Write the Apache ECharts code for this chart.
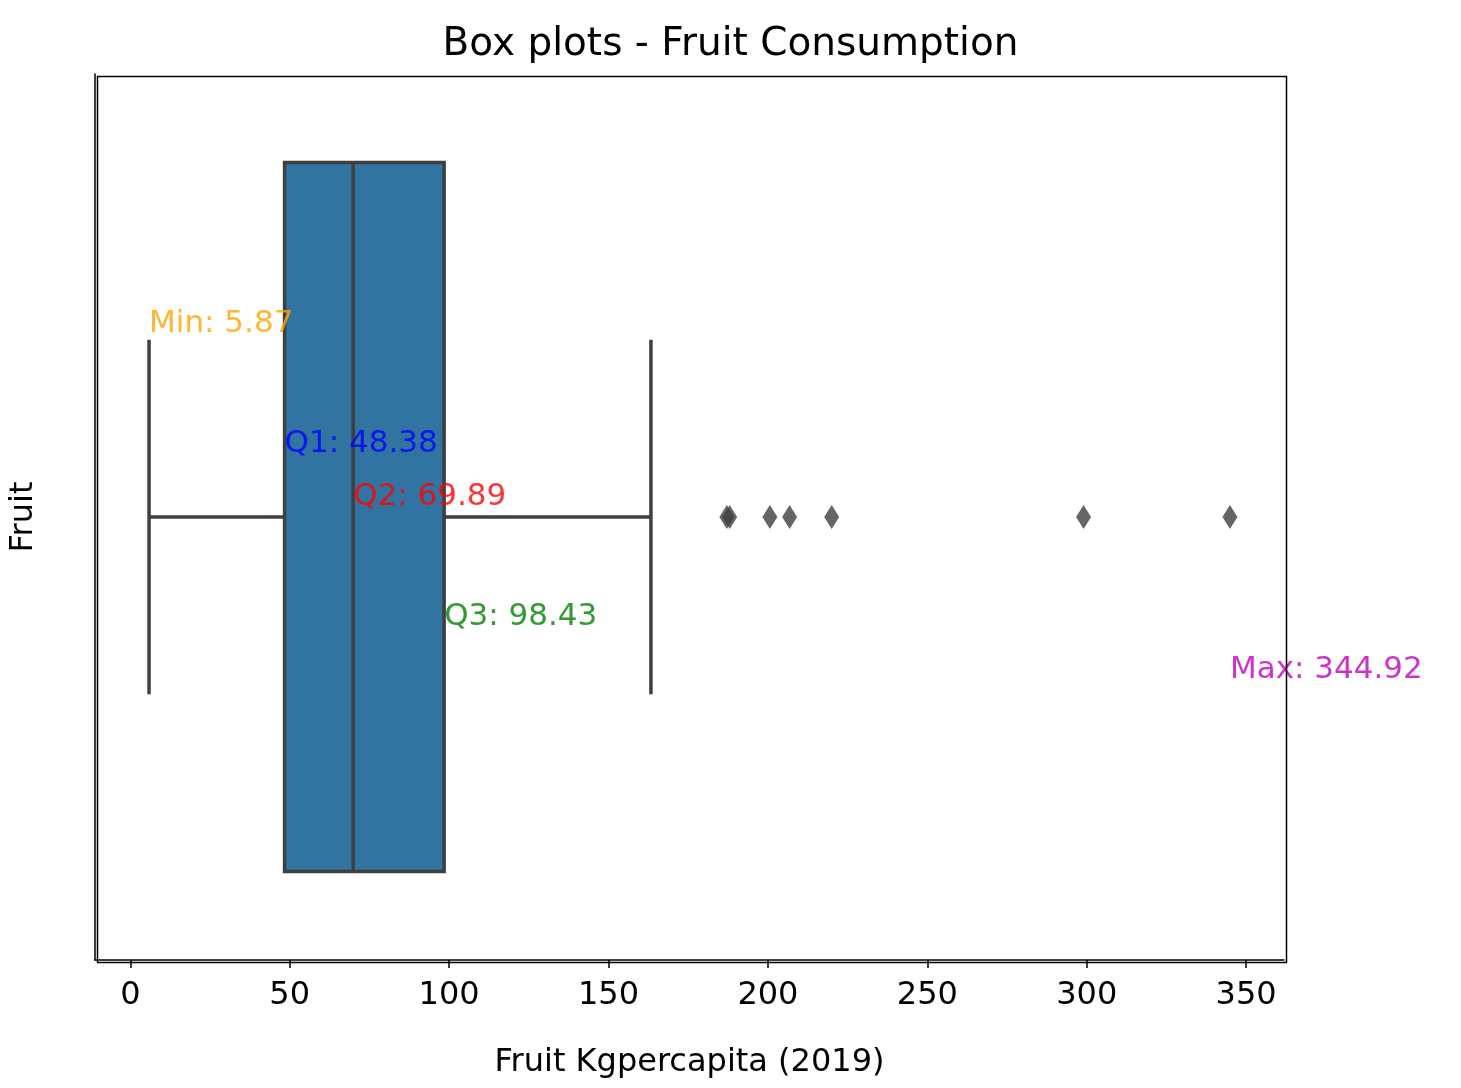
<!DOCTYPE html>
<html><head><meta charset="utf-8">
<script src="https://cdn.jsdelivr.net/npm/echarts@6/dist/echarts.min.js"></script>
<style>html,body{margin:0;background:#fff}#c{width:1461px;height:1088px}</style>
</head><body><div id="c"></div>
<script>
// five-number summary (whisker low, Q1, median, Q3, whisker high)
const stats = [5.87, 48.38, 69.89, 98.43, 163.3];
const outliers = [187.1, 188.0, 200.6, 206.8, 220.0, 299.0, 344.92];
// annotation texts: [x, y (box units), text, colour]
const notes = [
  [5.87, -0.2, 'Min: 5.87', 'orange'],
  [48.38, -0.065, 'Q1: 48.38', 'blue'],
  [69.89, -0.005, 'Q2: 69.89', 'red'],
  [98.43, 0.13, 'Q3: 98.43', 'green'],
  [344.92, 0.19, 'Max: 344.92', '#bf00bf']
];
const F = 'DejaVu Sans';
const edge = '#3f3f3f';

const chart = echarts.init(document.getElementById('c'));
chart.setOption({
  animation: false,
  title: {text: 'Box plots - Fruit Consumption', left: 'center', top: 20,
    textStyle: {fontFamily: F, fontSize: 39, fontWeight: 'normal', color: '#000'}},
  grid: {left: 95, right: 177, top: 74, bottom: 128},
  xAxis: {type: 'value', min: -11.08, max: 361.87, splitNumber: 7,
    name: 'Fruit Kgpercapita (2019)', nameLocation: 'middle', nameGap: 87,
    nameTextStyle: {fontFamily: F, fontSize: 32, color: '#000'},
    axisLine: {show: true, onZero: false, lineStyle: {color: '#000', width: 1.5}},
    axisTick: {show: true, length: 8, lineStyle: {color: '#000', width: 1.5}},
    axisLabel: {fontFamily: F, fontSize: 32, color: '#000', margin: 20, showMinLabel: false, showMaxLabel: false},
    splitLine: {show: false}},
  yAxis: [
    {type: 'category', data: [''], axisTick: {alignWithLabel: true, length: 8, lineStyle: {color: '#000', width: 1.5}},
     axisLine: {onZero: false, lineStyle: {color: '#000', width: 1.5}},
     name: 'Fruit', nameLocation: 'middle', nameGap: 55, nameRotate: 90,
     nameTextStyle: {fontFamily: F, fontSize: 32, color: '#000'}},
    {type: 'value', min: -0.5, max: 0.5, inverse: true, show: false}
  ],
  graphic: [{type: 'rect', left: 95, top: 74, shape: {width: 1189, height: 886},
    style: {fill: 'none', stroke: '#000', lineWidth: 1.5}, z: 100}],
  series: [
    {type: 'custom', yAxisIndex: 1, data: [stats],
     renderItem: (params, api) => {
       const p = i => api.coord([api.value(i), 0]);
       const hb = api.size([0, 0.4])[1], hc = api.size([0, 0.2])[1];
       const lo = p(0), q1 = p(1), md = p(2), q3 = p(3), hi = p(4);
       const y = lo[1];
       const ls = {stroke: edge, lineWidth: 3.5};
       return {type: 'group', children: [
         {type: 'line', shape: {x1: lo[0], y1: y, x2: q1[0], y2: y}, style: ls},
         {type: 'line', shape: {x1: q3[0], y1: y, x2: hi[0], y2: y}, style: ls},
         {type: 'line', shape: {x1: lo[0], y1: y - hc, x2: lo[0], y2: y + hc}, style: ls},
         {type: 'line', shape: {x1: hi[0], y1: y - hc, x2: hi[0], y2: y + hc}, style: ls},
         {type: 'rect', shape: {x: q1[0], y: y - hb, width: q3[0] - q1[0], height: 2 * hb},
          style: {fill: '#3274a1', stroke: edge, lineWidth: 3.5}},
         {type: 'line', shape: {x1: md[0], y1: y - hb, x2: md[0], y2: y + hb}, style: ls}
       ]};
     }},
    {type: 'scatter', yAxisIndex: 1, data: outliers.map(v => [v, 0]),
     symbol: 'diamond', symbolSize: [15, 24], itemStyle: {color: edge}},
    {type: 'scatter', yAxisIndex: 1, symbolSize: 0, z: 10,
     data: notes.map(n => ({value: [n[0], n[1]],
       label: {show: true, position: 'inside', align: 'left', verticalAlign: 'bottom', formatter: n[2],
         fontFamily: F, fontSize: 31, color: n[3]}}))}
  ]
});
</script></body></html>
